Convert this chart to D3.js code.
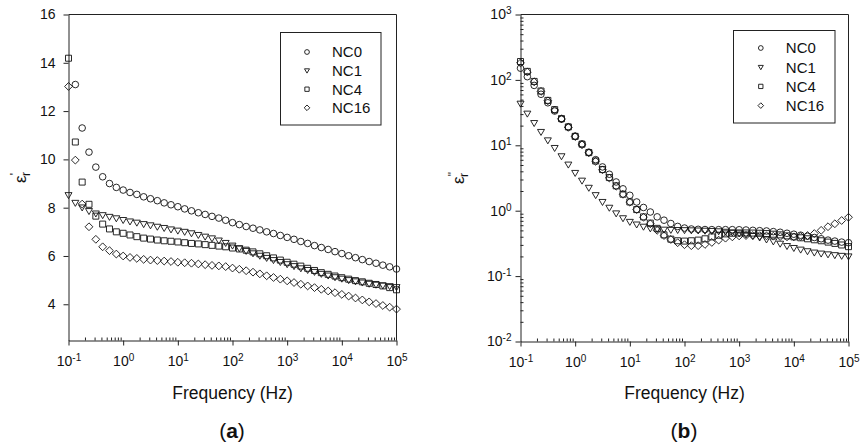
<!DOCTYPE html>
<html><head><meta charset="utf-8">
<script src="https://cdn.jsdelivr.net/npm/d3@7"></script>
<style>
body{margin:0;background:#fff}
svg{display:block}
text{font-family:"Liberation Sans",Arial,sans-serif}
</style>
</head><body>
<svg id="c" width="865" height="445"></svg>
<script>
// ---------- data ----------
const freq = [0.1,0.1334,0.1778,0.2371,0.3162,0.4217,0.5623,0.7499,
  1,1.334,1.778,2.371,3.162,4.217,5.623,7.499,
  10,13.34,17.78,23.71,31.62,42.17,56.23,74.99,
  100,133.4,177.8,237.1,316.2,421.7,562.3,749.9,
  1000,1334,1778,2371,3162,4217,5623,7499,
  10000,13340,17780,23710,31620,42170,56230,74990,100000];

const seriesNames = ["NC0","NC1","NC4","NC16"];
const seriesSymbols = ["circle","triangle","square","diamond"];

// (a) real permittivity
const realNC0 = [null,13.1,11.3,10.3,9.68,9.28,9.0,8.84,8.73,8.63,8.55,8.45,8.37,8.29,8.2,8.12,8.04,7.95,7.87,7.79,7.72,7.64,7.57,7.48,7.38,7.3,7.22,7.15,7.08,7.0,6.93,6.85,6.77,6.69,6.6,6.52,6.43,6.35,6.27,6.18,6.1,6.01,5.93,5.85,5.77,5.7,5.62,5.55,5.46];
const realNC1 = [8.52,8.2,8.01,7.86,7.76,7.69,7.62,7.56,7.49,7.43,7.38,7.32,7.27,7.21,7.16,7.1,7.05,7.0,6.94,6.87,6.8,6.73,6.64,6.54,6.43,6.32,6.21,6.11,6.01,5.92,5.83,5.75,5.66,5.58,5.49,5.42,5.34,5.26,5.19,5.12,5.06,5.0,4.95,4.9,4.85,4.81,4.78,4.75,4.71];
const realNC4 = [14.19,10.72,9.06,8.14,7.65,7.32,7.12,7.0,6.94,6.87,6.8,6.74,6.7,6.66,6.63,6.61,6.58,6.55,6.52,6.5,6.47,6.44,6.41,6.38,6.33,6.29,6.24,6.17,6.09,6.01,5.92,5.83,5.74,5.66,5.58,5.49,5.4,5.31,5.24,5.17,5.1,5.04,4.98,4.93,4.87,4.82,4.76,4.69,4.6];
const realNC16 = [13.02,9.97,8.15,7.21,6.69,6.38,6.22,6.08,6.0,5.94,5.9,5.86,5.83,5.81,5.79,5.77,5.74,5.72,5.7,5.67,5.64,5.61,5.59,5.56,5.5,5.45,5.39,5.33,5.26,5.18,5.11,5.04,4.97,4.9,4.83,4.76,4.69,4.62,4.55,4.48,4.41,4.34,4.26,4.18,4.1,4.03,3.95,3.88,3.8];

// (b) imaginary permittivity
const imagNC0 = [151,112,82.4,60.3,44.7,33.4,25.1,19.1,13.8,10.5,7.85,6.03,4.67,3.61,2.75,2.16,1.72,1.36,1.12,0.955,0.805,0.716,0.637,0.575,0.543,0.525,0.519,0.515,0.513,0.513,0.513,0.513,0.511,0.507,0.501,0.495,0.49,0.479,0.468,0.452,0.437,0.422,0.407,0.389,0.372,0.355,0.343,0.331,0.324];
const imagNC1 = [43.3,30.5,21.9,16.0,11.9,9.1,6.8,5.07,3.78,2.88,2.24,1.73,1.36,1.11,0.91,0.767,0.675,0.615,0.569,0.537,0.521,0.513,0.509,0.507,0.504,0.501,0.498,0.494,0.49,0.484,0.476,0.465,0.449,0.432,0.412,0.389,0.363,0.339,0.313,0.288,0.269,0.254,0.24,0.229,0.221,0.215,0.209,0.204,0.2];
const imagNC4 = [191,135,94.8,67.6,48.6,35.1,25.6,19.1,13.7,10.4,7.73,5.75,4.26,3.21,2.4,1.79,1.36,1.04,0.805,0.646,0.537,0.427,0.367,0.347,0.343,0.347,0.355,0.372,0.398,0.422,0.442,0.452,0.457,0.457,0.455,0.452,0.447,0.437,0.427,0.412,0.398,0.385,0.372,0.359,0.347,0.331,0.316,0.299,0.282];
const imagNC16 = [182,132,93.3,66.8,47.9,34.7,25.4,18.8,13.6,10.2,7.67,5.69,4.22,3.16,2.37,1.78,1.35,1.04,0.794,0.631,0.501,0.417,0.363,0.324,0.302,0.292,0.292,0.305,0.327,0.355,0.38,0.398,0.412,0.417,0.417,0.415,0.412,0.407,0.403,0.398,0.398,0.403,0.417,0.447,0.501,0.569,0.631,0.708,0.794];

// ticks
const xTickExps = [-1,0,1,2,3,4,5];
const minorMultipliers = [2,3,4,5,6,7,8,9];
const yTicksReal = [4,6,8,10,12,14,16];
const yTickExpsImag = [-2,-1,0,1,2,3];
const xLabel = "Frequency (Hz)";

// ---------- drawing ----------
const svg = d3.select("#c");
const axisColor = "#222";
const markStroke = "#111";

function symPath(type, s){
  s = s || 1;
  if(type==="circle"){const r=3.3*s;return `M${r},0A${r},${r},0,1,1,${-r},0A${r},${r},0,1,1,${r},0Z`;}
  if(type==="triangle"){const w=3.5*s,t=2.5*s,b=3.5*s;return `M${-w},${-t}L${w},${-t}L0,${b}Z`;}
  if(type==="square"){const h=3.0*s;return `M${-h},${-h}H${h}V${h}H${-h}Z`;}
  const d=3.9*s; return `M0,${-d}L${d},0L0,${d}L${-d},0Z`;
}

function supLabel(sel, exp, supSize){
  sel.text(null);
  sel.append("tspan").text("10");
  sel.append("tspan").attr("font-size",supSize).attr("dy","-5").text(String(exp));
}

function drawPanel(cfg){
  const g = svg.append("g");
  const x = d3.scaleLog().domain([freq[0], freq[freq.length-1]]).range([cfg.x0, cfg.x1]);
  const y = (cfg.log ? d3.scaleLog() : d3.scaleLinear()).domain(cfg.yDomain).range([cfg.yBot, cfg.yTop]);

  const xMajor = xTickExps.map(e => Math.pow(10, e));
  const xMinor = [];
  xTickExps.slice(0,-1).forEach(e => minorMultipliers.forEach(m => xMinor.push(m*Math.pow(10,e))));

  // frame (top + right)
  g.append("path").attr("d", `M${cfg.x0},${cfg.yTop}H${cfg.x1}V${cfg.yBot}`)
    .attr("fill","none").attr("stroke",axisColor).attr("stroke-width",1);

  // x minor ticks (inside)
  g.append("g").attr("transform",`translate(0,${cfg.yBot})`).attr("color",axisColor)
    .call(d3.axisBottom(x).tickValues(xMinor).tickSize(-3).tickSizeOuter(0).tickFormat(()=> ""))
    .call(a => a.select(".domain").remove());
  // x major
  const xa = g.append("g").attr("transform",`translate(0,${cfg.yBot})`).attr("color",axisColor)
    .call(d3.axisBottom(x).tickValues(xMajor).tickSize(5).tickSizeOuter(0).tickPadding(11).tickFormat(()=> ""));
  xa.attr("font-family",null).attr("font-size",null);
  xa.selectAll(".tick text").attr("fill","#111").attr("font-size",14)
    .each(function(d){ supLabel(d3.select(this), Math.round(Math.log10(d)), 10); });

  // y axis
  if(cfg.log){
    const yMinor = [];
    yTickExpsImag.slice(0,-1).forEach(e => minorMultipliers.forEach(m => yMinor.push(m*Math.pow(10,e))));
    g.append("g").attr("transform",`translate(${cfg.x0},0)`).attr("color",axisColor)
      .call(d3.axisLeft(y).tickValues(yMinor).tickSize(-3).tickSizeOuter(0).tickFormat(()=> ""))
      .call(a => a.select(".domain").remove());
    const ya = g.append("g").attr("transform",`translate(${cfg.x0},0)`).attr("color",axisColor)
      .call(d3.axisLeft(y).tickValues(yTickExpsImag.map(e=>Math.pow(10,e))).tickSize(5).tickSizeOuter(0).tickPadding(4).tickFormat(()=> ""));
    ya.attr("font-family",null).attr("font-size",null);
    ya.selectAll(".tick text").attr("fill","#111").attr("font-size",14)
      .each(function(d){ supLabel(d3.select(this), Math.round(Math.log10(d)), 10); });
  } else {
    const ya = g.append("g").attr("transform",`translate(${cfg.x0},0)`).attr("color",axisColor)
      .call(d3.axisLeft(y).tickValues(yTicksReal).tickSize(5).tickSizeOuter(0).tickPadding(8));
    ya.attr("font-family",null).attr("font-size",null);
    ya.selectAll(".tick text").attr("fill","#111").attr("font-size",14);
  }

  // markers
  seriesNames.forEach((name, i) => {
    const vals = cfg.data[i];
    const pts = freq.map((f, k) => ({f, v: vals[k]})).filter(p => p.v != null);
    g.append("g").selectAll("path").data(pts).join("path")
      .attr("transform", p => `translate(${x(p.f)},${y(p.v)})`)
      .attr("d", symPath(seriesSymbols[i]))
      .attr("fill","none").attr("stroke",markStroke).attr("stroke-width",0.9);
  });

  // legend
  const L = cfg.legend;
  const lg = g.append("g").attr("transform",`translate(${L.x},${L.y})`);
  lg.append("rect").attr("width",L.w).attr("height",L.h).attr("fill","#fff").attr("stroke",axisColor).attr("stroke-width",1);
  seriesNames.forEach((name,i) => {
    const ry = L.row0 + i*L.dy;
    lg.append("path").attr("transform",`translate(${L.sx},${ry})`).attr("d",symPath(seriesSymbols[i],0.72))
      .attr("fill","none").attr("stroke",markStroke).attr("stroke-width",0.9);
    lg.append("text").attr("x",L.tx).attr("y",ry).attr("dy","0.36em").attr("font-size",15).attr("fill","#111").text(name);
  });

  // axis titles
  const cx = (cfg.x0 + cfg.x1)/2;
  g.append("text").attr("x",cx).attr("y",399).attr("text-anchor","middle").attr("font-size",17.5).attr("fill","#111").text(xLabel);

  const yl = g.append("text").attr("transform",`translate(${cfg.ylx},${(cfg.yTop+cfg.yBot)/2}) rotate(-90)`)
    .attr("text-anchor","middle").attr("fill","#111").attr("font-size",17);
  yl.append("tspan").text("\u03b5");
  yl.append("tspan").attr("font-size",12).attr("dy",-7).text(cfg.prime);
  yl.append("tspan").attr("font-size",12).attr("dx",cfg.log ? -5 : -3).attr("dy",11).text("r");

  // panel label
  const pl = g.append("text").attr("x",cfg.labelX).attr("y",438).attr("text-anchor","middle")
    .attr("font-family","'DejaVu Serif',serif").attr("font-size",21).attr("fill","#111");
  pl.append("tspan").text("(");
  pl.append("tspan").attr("font-weight","bold").text(cfg.label);
  pl.append("tspan").text(")");
}

drawPanel({
  x0:68.5, x1:396.5, yTop:14.5, yBot:340.5, log:false, yDomain:[2.5,16],
  data:[realNC0, realNC1, realNC4, realNC16],
  legend:{x:280.5, y:32.5, w:100.5, h:92.5, row0:19.5, dy:18.6, sx:26.5, tx:51.5},
  ylx:26, prime:"'", label:"a", labelX:232
});
drawPanel({
  x0:520.5, x1:848.5, yTop:14.5, yBot:341.5, log:true, yDomain:[0.01,1000],
  data:[imagNC0, imagNC1, imagNC4, imagNC16],
  legend:{x:733.5, y:30.5, w:101.5, h:92.5, row0:17.5, dy:19.2, sx:27.3, tx:52.3},
  ylx:464, prime:"\"", label:"b", labelX:684
});
</script>
</body></html>
